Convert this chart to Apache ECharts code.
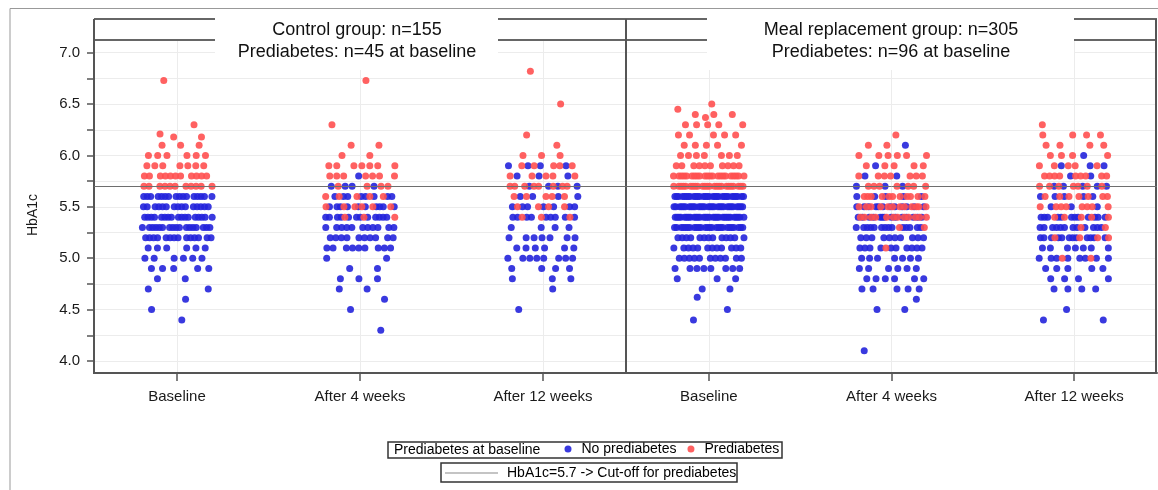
<!DOCTYPE html>
<html><head><meta charset="utf-8">
<script src="https://cdn.jsdelivr.net/npm/echarts@6/dist/echarts.min.js"></script>
<style>html,body{margin:0;padding:0;background:#fff}#c{width:1158px;height:490px}</style>
</head><body><div id="c"></div>
<script>
// ---------------- data ----------------
const timepoints = ['Baseline', 'After 4 weeks', 'After 12 weeks'];
const panelTitles = [
  ['Control group: n=155', 'Prediabetes: n=45 at baseline'],
  ['Meal replacement group: n=305', 'Prediabetes: n=96 at baseline']
];
const yTickValues = [4.0, 4.25, 4.5, 4.75, 5.0, 5.25, 5.5, 5.75, 6.0, 6.25, 6.5, 6.75, 7.0];
const yLabelValues = [4.0, 4.5, 5.0, 5.5, 6.0, 6.5, 7.0];
const cutoff = 5.7;
const groupNames = ['No prediabetes', 'Prediabetes'];
const cutoffName = 'HbA1c=5.7 -> Cut-off for prediabetes';

// [HbA1c value, number of participants]
// Control group
const ctrlBaseNo  = [[4.4,1],[4.5,1],[4.6,1],[4.7,2],[4.8,2],[4.9,5],[5.0,6],[5.1,6],[5.2,14],[5.3,17],[5.4,17],[5.5,15],[5.6,16]];
const ctrlBasePre = [[5.7,11],[5.8,11],[5.9,7],[6.0,6],[6.1,3],[6.18,2],[6.21,1],[6.3,1],[6.73,1]];
const ctrlW4No    = [[4.3,1],[4.5,1],[4.6,1],[4.7,2],[4.8,3],[4.9,2],[5.0,2],[5.1,9],[5.2,10],[5.3,11],[5.4,12],[5.5,10],[5.6,8],[5.7,4],[5.8,1]];
const ctrlW4Pre   = [[5.4,3],[5.5,6],[5.6,5],[5.7,4],[5.8,7],[5.9,7],[6.0,2],[6.1,2],[6.3,1],[6.73,1]];
const ctrlW12No   = [[4.5,1],[4.7,1],[4.8,3],[4.9,4],[5.0,8],[5.1,6],[5.2,7],[5.3,4],[5.4,9],[5.5,7],[5.6,4],[5.7,4],[5.8,3],[5.9,4]];
const ctrlW12Pre  = [[5.4,3],[5.5,4],[5.6,5],[5.7,8],[5.8,5],[5.9,5],[6.0,3],[6.1,1],[6.2,1],[6.5,1],[6.82,1]];
// Meal replacement group
const mealBaseNo  = [[4.4,1],[4.5,1],[4.62,1],[4.7,2],[4.8,3],[4.9,8],[5.0,11],[5.1,12],[5.2,13],[5.3,26],[5.4,30],[5.5,30],[5.6,30]];
const mealBasePre = [[5.7,24],[5.8,22],[5.9,10],[6.0,7],[6.1,5],[6.2,5],[6.3,5],[6.37,1],[6.4,3],[6.45,1],[6.5,1]];
const mealW4No    = [[4.1,1],[4.5,2],[4.6,1],[4.7,5],[4.8,6],[4.9,6],[5.0,7],[5.1,10],[5.2,10],[5.3,14],[5.4,14],[5.5,12],[5.6,5],[5.7,3],[5.8,2],[5.9,1],[6.1,1]];
const mealW4Pre   = [[5.1,1],[5.3,2],[5.4,12],[5.5,12],[5.6,11],[5.7,7],[5.8,7],[5.9,5],[6.0,6],[6.1,2],[6.2,1]];
const mealW12No   = [[4.4,2],[4.5,1],[4.7,4],[4.8,4],[4.9,5],[5.0,8],[5.1,7],[5.2,12],[5.3,12],[5.4,12],[5.5,3],[5.6,5],[5.7,5],[5.8,2],[5.9,3],[6.0,1]];
const mealW12Pre  = [[5.0,2],[5.2,4],[5.3,2],[5.4,5],[5.5,8],[5.6,7],[5.7,7],[5.8,9],[5.9,5],[6.0,4],[6.1,4],[6.2,4],[6.3,1]];

// ---------------- layout ----------------
const FONT = '"Liberation Sans", Arial, sans-serif';
const BLUE = '#2424dc', RED = '#ff5050';
const panels = [
  { cols: [[ctrlBaseNo, ctrlBasePre], [ctrlW4No, ctrlW4Pre], [ctrlW12No, ctrlW12Pre]], left: 94, width: 532, seed: 3, cx: 357 },
  { cols: [[mealBaseNo, mealBasePre], [mealW4No, mealW4Pre], [mealW12No, mealW12Pre]], left: 626, width: 531, seed: 41, cx: 891 }
];
const GRID_TOP = 40, GRID_H = 333;
const Y_MIN = 3.883, Y_MAX = 7.124;
const X_MIN = -0.4536, X_MAX = 2.4536;
const SPREAD = 0.39; // total jitter width in category units

// horizontal jitter: display spread only (stratified slots, deterministic)
function frac(x) { return x - Math.floor(x); }

function panelPoints(p) {
  const no = [], pre = [];
  let k = p.seed;
  p.cols.forEach((col, ci) => {
    const [nList, pList] = col;
    const vals = Array.from(new Set(nList.map(d => d[0]).concat(pList.map(d => d[0])))).sort((a, b) => a - b);
    vals.forEach(v => {
      const nb = (nList.find(d => d[0] === v) || [v, 0])[1];
      const nr = (pList.find(d => d[0] === v) || [v, 0])[1];
      const items = [];
      for (let i = 0; i < nb; i++) items.push({ c: 0, key: frac((k + i) * 0.6180339887) });
      for (let i = 0; i < nr; i++) items.push({ c: 1, key: frac((k + nb + i) * 0.6180339887) });
      items.sort((a, b) => a.key - b.key);
      const n = items.length;
      items.forEach((it, slot) => {
        const u = frac((k + slot) * 0.7548776662 + 0.31);
        const pos = (slot + 0.5 + 0.9 * (u - 0.5)) / n;
        const pt = [ci + (pos - 0.5) * SPREAD, v];
        (it.c === 0 ? no : pre).push(pt);
      });
      k += n + 5;
    });
  });
  return { no, pre };
}

const grids = [], xAxes = [], yAxes = [], series = [];
panels.forEach((p, i) => {
  grids.push({ left: p.left, top: GRID_TOP, width: p.width, height: GRID_H, containLabel: false });
  xAxes.push({
    type: 'value', gridIndex: i, min: X_MIN, max: X_MAX,
    axisLine: { show: true, onZero: false, lineStyle: { color: '#555', width: 2 } },
    axisTick: { show: true, length: 8, lineStyle: { color: '#555', width: 1.5 }, customValues: [0, 1, 2] },
    axisLabel: { customValues: [0, 1, 2], formatter: v => timepoints[Math.round(v)], margin: 16,
      fontSize: 15, color: '#1a1a1a', fontFamily: FONT },
    splitLine: { show: true, lineStyle: { color: '#ececec', width: 1 } }
  });
  yAxes.push({
    type: 'value', gridIndex: i, min: Y_MIN, max: Y_MAX,
    axisLine: { show: false, onZero: false },
    axisTick: { show: i === 0, length: 7, lineStyle: { color: '#555', width: 1.5 }, customValues: yTickValues },
    axisLabel: { show: i === 0, customValues: yLabelValues, formatter: v => v.toFixed(1), margin: 14,
      fontSize: 15, color: '#1a1a1a', fontFamily: FONT },
    splitLine: { show: true, lineStyle: { color: '#ececec', width: 1 } }
  });
  const pts = panelPoints(p);
  series.push({
    name: groupNames[0], type: 'scatter', xAxisIndex: i, yAxisIndex: i, data: pts.no,
    symbolSize: 7, itemStyle: { color: BLUE, opacity: 0.9 }, z: 3
  });
  series.push({
    name: groupNames[1], type: 'scatter', xAxisIndex: i, yAxisIndex: i, data: pts.pre,
    symbolSize: 7, itemStyle: { color: RED, opacity: 0.9 }, z: 4
  });
  series.push({
    name: cutoffName, type: 'line', xAxisIndex: i, yAxisIndex: i, data: [], symbol: 'none',
    lineStyle: { color: '#7a7a7a', width: 1 }, itemStyle: { color: '#8a8a8a' },
    markLine: { silent: true, symbol: 'none', label: { show: false }, z: 5,
      lineStyle: { color: '#6e6e6e', width: 1, type: 'solid' }, data: [{ yAxis: cutoff }] }
  });
});

const graphics = [
  // page frame
  { type: 'polyline', shape: { points: [[10, 490], [10, 8.5], [1158, 8.5]] }, style: { stroke: '#999', lineWidth: 1, fill: null }, z: 1 },
  // header band
  { type: 'line', shape: { x1: 94, y1: 19, x2: 1157, y2: 19 }, style: { stroke: '#666', lineWidth: 2 }, z: 1 },
  { type: 'line', shape: { x1: 94, y1: 40, x2: 1157, y2: 40 }, style: { stroke: '#666', lineWidth: 2 }, z: 1 },
  // panel borders
  { type: 'line', shape: { x1: 94, y1: 19, x2: 94, y2: 374 }, style: { stroke: '#555', lineWidth: 2 }, z: 1 },
  { type: 'line', shape: { x1: 626, y1: 19, x2: 626, y2: 374 }, style: { stroke: '#555', lineWidth: 2 }, z: 1 },
  { type: 'line', shape: { x1: 1156, y1: 19, x2: 1156, y2: 374 }, style: { stroke: '#555', lineWidth: 2 }, z: 1 },
  // title boxes
  { type: 'rect', shape: { x: 215, y: 17, width: 283, height: 53 }, style: { fill: '#fff' }, z: 10 },
  { type: 'rect', shape: { x: 707, y: 17, width: 367, height: 53 }, style: { fill: '#fff' }, z: 10 },
  // y axis title
  { type: 'text', x: 33, y: 215, rotation: Math.PI / 2, style: { text: 'HbA1c', fill: '#1a1a1a', font: '14px ' + FONT, align: 'center', verticalAlign: 'middle' }, z: 11 },
  // legend boxes
  { type: 'rect', shape: { x: 388, y: 442, width: 394, height: 16 }, style: { fill: null, stroke: '#333', lineWidth: 1.5 }, z: 11 },
  { type: 'rect', shape: { x: 441, y: 463, width: 296, height: 19 }, style: { fill: null, stroke: '#333', lineWidth: 1.5 }, z: 11 },
  { type: 'text', x: 394, y: 450, style: { text: 'Prediabetes at baseline', fill: '#000', font: '14px ' + FONT, align: 'left', verticalAlign: 'middle' }, z: 11 }
];
panels.forEach((p, i) => {
  graphics.push({ type: 'text', x: p.cx, y: 30.5, style: { text: panelTitles[i][0], fill: '#111', font: '18px ' + FONT, align: 'center', verticalAlign: 'middle' }, z: 11 });
  graphics.push({ type: 'text', x: p.cx, y: 52, style: { text: panelTitles[i][1], fill: '#111', font: '18px ' + FONT, align: 'center', verticalAlign: 'middle' }, z: 11 });
});

const chart = echarts.init(document.getElementById('c'), null, { renderer: 'canvas' });
chart.setOption({
  animation: false,
  backgroundColor: '#fff',
  grid: grids, xAxis: xAxes, yAxis: yAxes, series: series,
  legend: [
    { data: groupNames, left: 564.5, top: 442, padding: 0, icon: 'circle', itemWidth: 7, itemHeight: 7, itemGap: 11,
      selectedMode: false, textStyle: { fontSize: 14, color: '#000', fontFamily: FONT, padding: [0, 0, 0, 5] } },
    { data: [{ name: cutoffName, icon: 'rect' }], left: 445, top: 466, padding: 0, itemWidth: 53, itemHeight: 1,
      selectedMode: false, textStyle: { fontSize: 14, color: '#000', fontFamily: FONT, padding: [0, 0, 0, 4] } }
  ],
  graphic: graphics
});
</script></body></html>
